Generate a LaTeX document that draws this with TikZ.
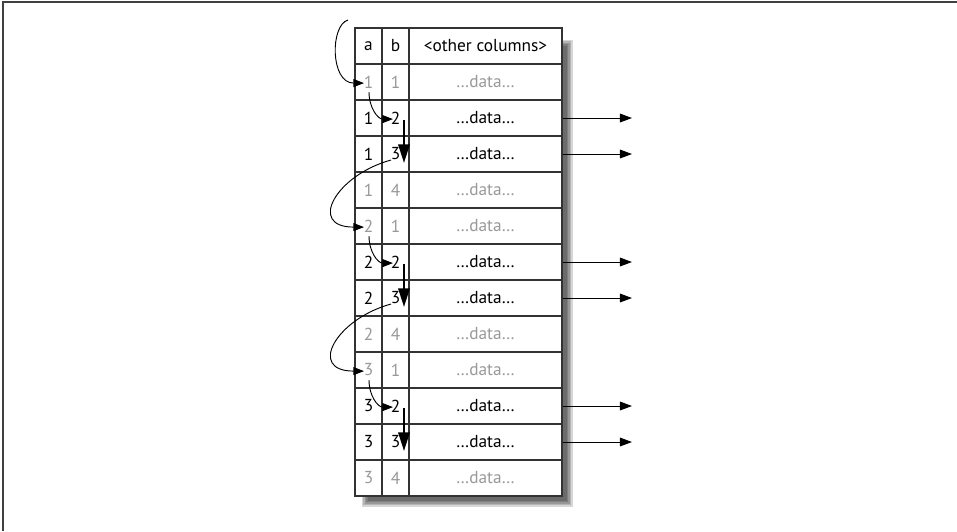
\documentclass[tikz,border=0pt]{standalone}
\usepackage{fontspec}
\setmainfont{PT Sans}
\usepackage{tikz}
\usetikzlibrary{calc, arrows.meta}

\definecolor{faded}{HTML}{999999}
\definecolor{rule}{HTML}{333333}

\tikzset{
	cell/.style={draw=rule, line width=0.9pt, fill=white, minimum height=27pt, inner sep=0pt, font=\fontsize{13}{15}\selectfont},
	cella/.style={cell, minimum width=20.25pt},
	celld/.style={cell, minimum width=114.75pt},
	hop/.style={line width=0.7pt, -{Triangle[length=8pt,width=6pt]}},
	fall/.style={line width=1.6pt, -{Triangle[length=14pt,width=8.5pt]}},
	emit/.style={line width=0.7pt, -{Triangle[length=9pt,width=6.5pt]}}
}

\begin{document}
\begin{tikzpicture}[x=27pt, y=27pt]
			
			\useasboundingbox (-9.861,-13.972) rectangle (16.722,0.778);
			\draw[line width=1.5pt, black!75] (-9.79,-13.972) -- (-9.79,0.736) -- (16.722,0.736);
			
			% shadow
			\foreach \i in {0,1,2,3,4}
			\fill[black, opacity=0.16] ($(0.19,-0.33)+(\i*0.04,-\i*0.04)$) rectangle ($(6.05,-13.3)+(-\i*0.04,\i*0.04)$);
			
			% header
			\node [cella] (ha) at (0.375,-0.5) {a};
			\node [cella] (hb) at (1.125,-0.5) {b};
			\node [celld] (hd) at (3.625,-0.5) {<other columns>};
			
			% rows
			\foreach \r in {1,...,12}
			{
				\pgfmathtruncatemacro\av{(\r-1)/4+1}
				\pgfmathtruncatemacro\bv{mod(\r-1,4)+1}
				\ifnum\bv=1 \def\tc{faded}\else\ifnum\bv=4 \def\tc{faded}\else\def\tc{black}\fi\fi
				\node [cella, text=\tc] (a\r) at (0.375,-\r-0.5) {\av};
				\node [cella, text=\tc] (b\r) at (1.125,-\r-0.5) {\bv};
				\node [celld, text=\tc] (d\r) at (3.625,-\r-0.5) {…data…};
			}
			
			% rows that are sent on
			\foreach \r in {2,3,6,7,10,11}
			{
				\coordinate (o\r) at (7.694,-\r-0.5);
				\draw [emit] (d\r.east) -- (o\r);
			}
			
			% path through the index
			\coordinate (entry) at (-0.194,0.222);
			\foreach \g in {0,1,2}
			{
				\pgfmathtruncatemacro\ra{4*\g+1}
				\pgfmathtruncatemacro\rb{4*\g+2}
				\pgfmathtruncatemacro\rc{4*\g+3}
				\pgfmathtruncatemacro\rp{4*\g-1}
				\ifnum\g=0
				\draw [hop] (entry) .. controls +(-0.5,-0.14) and +(-0.94,0) .. ($(a\ra.center)+(-0.125,-0.03)$);
				\else
				\draw [hop] ($(b\rp.center)+(-0.125,-0.167)$) .. controls +(-1.53,-0.42) and +(-1.58,0) .. ($(a\ra.center)+(-0.125,-0.03)$);
				\fi
				\draw [hop] ($(a\ra.center)+(0.014,-0.278)$) .. controls +(0,-0.44) and +(-0.42,0) .. ($(b\rb.center)+(-0.07,-0.03)$);
				\draw [fall] ($(b\rb.center)+(0.236,-0.056)$) -- ($(b\rc.center)+(0.236,-0.25)$);
			}
			
\end{tikzpicture}
\end{document}
